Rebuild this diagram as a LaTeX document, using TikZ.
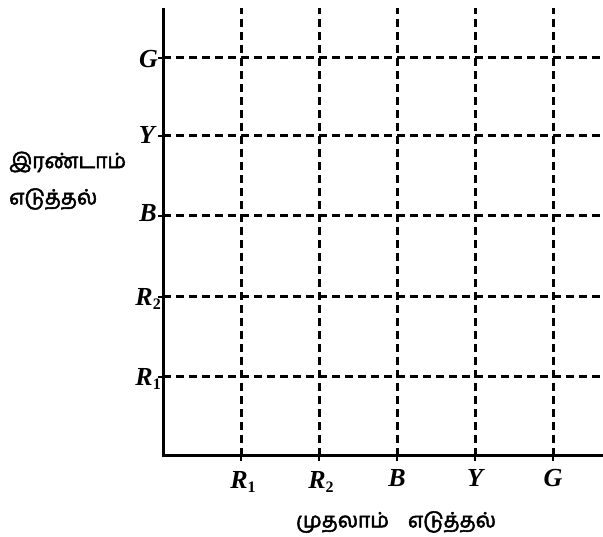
\documentclass[tikz,border=0pt]{standalone}
\usepackage{fontspec}
\setmainfont{Liberation Serif}
\newfontfamily\tamil[Script=Tamil,AutoFakeBold=2.5]{Hind Madurai}
\newcommand{\subR}[1]{R\raisebox{-0.4ex}{\fontsize{16}{17}\selectfont\upshape #1}}
\begin{document}
\begin{tikzpicture}[x=1pt,y=-1pt,
  axis/.style={line width=3pt},
  grid/.style={line width=3pt, dash pattern=on 8pt off 5pt},
  tick/.style={line width=1.8pt},
  lab/.style={font=\fontsize{26}{28}\selectfont\itshape\bfseries, inner sep=0pt},
  tam/.style={font=\fontsize{21}{23}\selectfont\tamil\bfseries, inner sep=0pt, anchor=west}]
\useasboundingbox (0,0) rectangle (603,537);
\coordinate (O) at (163,456);
\coordinate (T) at (163,8);
\coordinate (E) at (603,456);
% grid lines
\foreach \x [count=\i] in {241,319,397,475,553} {
  \coordinate (vt\i) at (\x,8);
  \coordinate (vb\i) at (\x,456);
  \draw[grid] (vb\i) -- (vt\i);
  \draw[tick] (vb\i) -- ++(0,5);
}
\foreach \y [count=\i] in {377,297,216,136,58} {
  \coordinate (hl\i) at (163,\y);
  \coordinate (hr\i) at (603,\y);
  \draw[grid] (hl\i) -- (hr\i);
  \draw[tick] (hl\i) -- ++(-5,0);
}
\draw[axis] (T) -- (O) -- (E);
% y labels
\node[lab, anchor=east] (yG) at (158,59) {G};
\node[lab, anchor=east] (yY) at (155,135) {Y};
\node[lab, anchor=east] (yB) at (157,213) {B};
\node[lab, anchor=east] (yR2) at (161,299) {\subR{2}};
\node[lab, anchor=east] (yR1) at (161,379) {\subR{1}};
% x labels
\node[lab] (xR1) at (243,482) {\subR{1}};
\node[lab] (xR2) at (321,482) {\subR{2}};
\node[lab] (xB) at (397,478) {B};
\node[lab] (xY) at (475,478) {Y};
\node[lab] (xG) at (553,478) {G};
% Tamil labels
\node[tam] (t1) at (9,162) {இரண்டாம்};
\node[tam] (t2) at (9,199) {எடுத்தல்};
\node[tam, anchor=center] (t3) at (396,522) {முதலாம்\hspace{0.9em}எடுத்தல்};
\end{tikzpicture}
\end{document}
